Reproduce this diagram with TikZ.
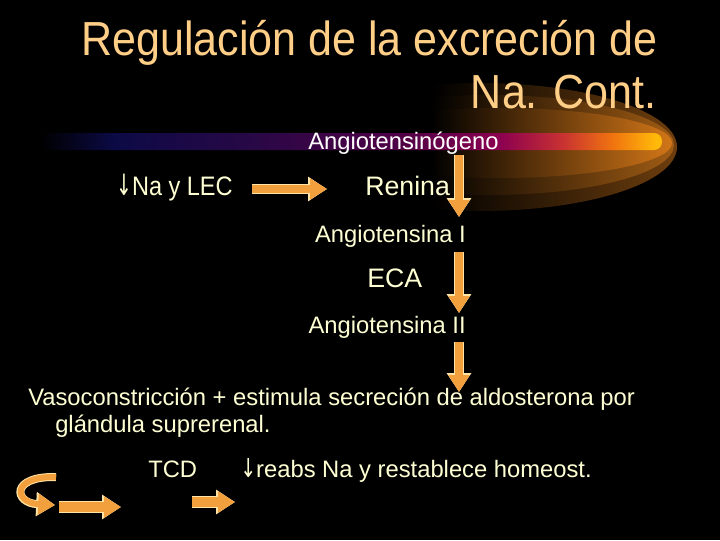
\documentclass[tikz,border=0pt]{standalone}
\usepackage{fontspec}
\setmainfont{Liberation Sans}
\newfontfamily\flechas{DejaVu Sans}
\usetikzlibrary{arrows.meta}
\definecolor{titulo}{RGB}{255,206,135}
\definecolor{crema}{RGB}{255,255,212}
\definecolor{naranja}{RGB}{242,160,62}
\definecolor{borde}{RGB}{255,228,165}
\definecolor{brillo1}{RGB}{110,62,14}
\definecolor{brillo2}{RGB}{160,92,20}
\definecolor{brillo3}{RGB}{210,118,24}
\definecolor{bazul}{RGB}{12,10,70}
\definecolor{bvioleta}{RGB}{40,8,70}
\definecolor{bpurpura}{RGB}{80,0,70}
\definecolor{bmagenta}{RGB}{140,0,80}
\definecolor{brojo}{RGB}{200,50,50}
\definecolor{bnaranja}{RGB}{240,115,15}
\definecolor{bamarillo}{RGB}{255,185,10}
\pgfdeclarehorizontalshading{barra}{100bp}{color(0bp)=(black); color(25bp)=(black);
  color(31bp)=(bazul); color(42bp)=(bvioleta); color(54bp)=(bpurpura);
  color(62bp)=(bmagenta); color(67bp)=(brojo); color(71bp)=(bnaranja);
  color(74.5bp)=(bamarillo); color(100bp)=(bamarillo)}
\pgfdeclarehorizontalshading{brilloA}{100bp}{color(0bp)=(black); color(25bp)=(black);
  color(44bp)=(black); color(75bp)=(brillo1); color(100bp)=(brillo1)}
\pgfdeclarehorizontalshading{brilloB}{100bp}{color(0bp)=(black); color(25bp)=(black);
  color(42bp)=(black); color(75bp)=(brillo2); color(100bp)=(brillo2)}
\pgfdeclarehorizontalshading{brilloC}{100bp}{color(0bp)=(black); color(25bp)=(black);
  color(40bp)=(black); color(75bp)=(brillo3); color(100bp)=(brillo3)}
\newcommand{\baja}{{\flechas\scalebox{0.8}[1.1]{↓}}}

\begin{document}
\begin{tikzpicture}[x=0.025cm, y=-0.025cm,
  txt/.style={text=crema, inner sep=0pt, font=\fontsize{16.9}{20}\selectfont},
  grande/.style={txt, font=\fontsize{19}{23}\selectfont},
  tit/.style={text=titulo, inner sep=0pt, font=\fontsize{34}{40}\selectfont},
  flecha/.style={draw=naranja, line width=#1, -{Triangle[width=0.5cm,length=0.42cm]},
    preaction={draw=borde, line width=#1+0.05cm, -{Triangle[width=0.58cm,length=0.47cm]}}},
  flecha/.default=0.22cm]

% fondo
\fill[black] (0,0) rectangle (720,540);

% resplandor
\shade[shading=brilloA] (480,147) ellipse [x radius=197, y radius=64];
\shade[shading=brilloB] (490,145) ellipse [x radius=184, y radius=50];
\shade[shading=brilloC] (500,143) ellipse [x radius=172, y radius=35];
\shade[shading=barra, rounded corners=0.2cm] (40,133) rectangle (662,150);

% titulo
\node[tit, anchor=base east] (tit1) at (658,55) {\scalebox{0.9}[1]{Regulación de la excreción de}};
\node[tit, anchor=base east] (tit2) at (657,108) {\scalebox{0.9}[1]{Na. Cont.}};

% cascada
\node[txt, text=white, anchor=base west] (ago) at (308,149) {Angiotensinógeno};
\node[grande, anchor=base west] (na) at (116,195) {\scalebox{0.88}[1]{\baja Na y LEC}};
\node[grande, anchor=base west] (ren) at (365,195) {Renina};
\node[txt, anchor=base east] (at1) at (466,242) {Angiotensina I};
\node[grande, anchor=base west] (eca) at (367,287) {ECA};
\node[txt, anchor=base east] (at2) at (466,333) {Angiotensina II};
\node[txt, anchor=base west] (vaso) at (28,405) {Vasoconstricción + estimula secreción de aldosterona por};
\node[txt, anchor=base west] (glan) at (55,432) {glándula suprerenal.};
\node[txt, anchor=base west] (tcd) at (148,477) {TCD};
\node[txt, anchor=base west] (reabs) at (240,477) {\baja reabs Na y restablece homeost.};

% extremos de flechas
\coordinate (h1a) at (252,189);
\coordinate (h1b) at (327,189);
\coordinate (v1a) at (459,155);
\coordinate (v1b) at (459,217);
\coordinate (v2a) at (459,252);
\coordinate (v2b) at (459,313);
\coordinate (v3a) at (459,342);
\coordinate (v3b) at (459,392);
\coordinate (c1a) at (56,477);
\coordinate (c1b) at (55,505);
\coordinate (b1a) at (59,507);
\coordinate (b1b) at (121,507);
\coordinate (b2a) at (192,502);
\coordinate (b2b) at (235,502);

\draw[flecha=0.18cm] (h1a) -- (h1b);
\draw[flecha] (v1a) -- (v1b);
\draw[flecha] (v2a) -- (v2b);
\draw[flecha] (v3a) -- (v3b);
\draw[flecha=0.15cm] (c1a) .. controls (10,476) and (14,503) .. (c1b);
\draw[flecha=0.25cm] (b1a) -- (b1b);
\draw[flecha=0.24cm] (b2a) -- (b2b);
\end{tikzpicture}
\end{document}
